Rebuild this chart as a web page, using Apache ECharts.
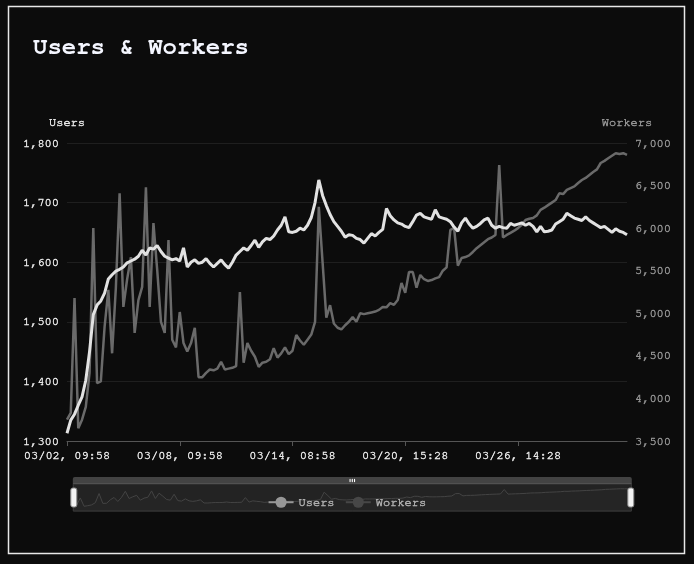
<!DOCTYPE html>
<html><head><meta charset="utf-8">
<script src="https://cdn.jsdelivr.net/npm/echarts@6/dist/echarts.min.js"></script>
<style>html,body{margin:0;padding:0;background:#0c0c0c}#c{width:694px;height:564px}</style>
</head><body><div id="c"></div>
<script>
const tickLabels = ['03/02, 09:58', '03/08, 09:58', '03/14, 08:58', '03/20, 15:28', '03/26, 14:28'];
const seriesNames = ['Users', 'Workers'];
const users = [
1313,1335,1345,1360,1374,1402,1450,1512,1528,1535,
1548,1572,1579,1585,1588,1592,1599,1602,1605,1610,
1620,1612,1624,1622,1628,1618,1610,1607,1604,1606,
1602,1624,1592,1600,1604,1598,1600,1606,1598,1592,
1598,1604,1596,1590,1600,1612,1618,1624,1620,1628,
1637,1625,1634,1640,1638,1644,1654,1662,1676,1651,
1650,1652,1657,1654,1662,1675,1700,1738,1712,1695,
1680,1668,1660,1652,1642,1646,1645,1640,1638,1632,
1640,1648,1644,1650,1655,1690,1678,1671,1666,1664,
1660,1658,1668,1679,1682,1676,1674,1672,1688,1676,
1674,1672,1668,1659,1652,1666,1674,1664,1657,1660,
1665,1671,1674,1662,1657,1660,1658,1657,1665,1662,
1664,1666,1662,1665,1660,1651,1660,1651,1652,1654,
1664,1668,1672,1682,1678,1674,1672,1670,1676,1670,
1666,1662,1658,1660,1655,1650,1656,1652,1650,1646
];
const workers = [
3750,3830,5180,3650,3750,3900,4300,6000,4180,4200,
4840,5275,4530,5300,6410,5075,5400,5660,4770,5155,
5310,6480,5075,6060,5510,4900,4770,5860,4690,4600,
5015,4650,4550,4650,4830,4250,4250,4300,4340,4330,
4350,4430,4340,4350,4360,4380,5250,4420,4650,4560,
4490,4370,4420,4430,4460,4590,4480,4530,4600,4520,
4560,4745,4680,4630,4690,4750,4900,6250,5600,4950,
5095,4880,4830,4810,4860,4900,4955,4900,5000,4990,
5000,5010,5020,5040,5075,5070,5120,5100,5155,5355,
5240,5485,5485,5300,5450,5400,5380,5390,5410,5425,
5500,5540,5980,6000,5560,5650,5660,5680,5720,5765,
5800,5835,5870,5890,5920,6740,5890,5920,5945,5970,
6000,6040,6095,6110,6120,6150,6215,6240,6270,6300,
6330,6410,6400,6450,6470,6490,6530,6565,6590,6625,
6660,6690,6765,6790,6820,6850,6880,6870,6880,6860
];
const LABEL_STEP = 30;
const categories = users.map((v, i) => i % LABEL_STEP === 0 ? tickLabels[i / LABEL_STEP] : tickLabels[Math.floor(i / LABEL_STEP)] + ' +' + (i % LABEL_STEP));

const FONT = "'Nimbus Mono PS', 'Nimbus Mono L', FreeMono, 'Courier 10 Pitch', Courier, 'Courier New', 'Liberation Mono', monospace";
const LIGHT = '#e8e8e8', DIM = '#959595';
function txt(color) {
  return { color: color, fontFamily: FONT, fontSize: 12, textBorderColor: color, textBorderWidth: 0.45 };
}
const chart = echarts.init(document.getElementById('c'));
chart.setOption({
  backgroundColor: '#0c0c0c',
  animation: false,
  textStyle: { fontFamily: FONT },
  graphic: [{
    type: 'rect', shape: { x: 8.5, y: 6.5, width: 676, height: 547 },
    style: { fill: 'none', stroke: '#e8e8e8', lineWidth: 1.5 }, silent: true
  }],
  title: {
    text: 'Users & Workers', left: 28, top: 30,
    textStyle: { fontFamily: FONT, fontSize: 24, fontWeight: 'bold', color: '#f4f6ff' }
  },
  legend: {
    data: [
      { name: seriesNames[0], itemStyle: { color: '#c8c8c8' }, lineStyle: { color: '#c8c8c8' } },
      { name: seriesNames[1], itemStyle: { color: '#555' }, lineStyle: { color: '#555' } }
    ],
    top: 491, left: 'center', itemGap: 10, itemWidth: 25, itemHeight: 14,
    textStyle: txt(LIGHT)
  },
  grid: { left: 67, right: 67, top: 143, bottom: 123 },
  xAxis: {
    type: 'category', data: categories, boundaryGap: false,
    axisLine: { lineStyle: { color: '#555' } },
    axisTick: { interval: LABEL_STEP - 1, length: 5, lineStyle: { color: '#555' } },
    axisLabel: Object.assign({ interval: LABEL_STEP - 1, margin: 8 }, txt(LIGHT)),
    splitLine: { show: false }
  },
  yAxis: [{
    type: 'value', name: seriesNames[0], min: 1300, max: 1800, interval: 100,
    nameTextStyle: txt(LIGHT), nameGap: 15,
    axisLine: { show: false }, axisTick: { show: false },
    axisLabel: Object.assign({ margin: 8 }, txt(LIGHT)),
    splitLine: { lineStyle: { color: '#1f1f1f' } }
  }, {
    type: 'value', name: seriesNames[1], min: 3500, max: 7000, interval: 500,
    nameTextStyle: txt(DIM), nameGap: 15,
    axisLine: { show: false }, axisTick: { show: false },
    axisLabel: Object.assign({ margin: 8 }, txt(DIM)),
    splitLine: { show: false }
  }],
  dataZoom: [{
    type: 'slider', xAxisIndex: 0, start: 0, end: 100,
    left: 70, right: 65, top: 477, height: 28,
    backgroundColor: '#222', borderColor: '#3a3a3a',
    fillerColor: 'rgba(40,40,40,0.3)',
    dataBackground: { lineStyle: { color: '#505050', width: 1 }, areaStyle: { color: '#2a2a2a' } },
    selectedDataBackground: { lineStyle: { color: '#505050', width: 1 }, areaStyle: { color: '#2a2a2a' } },
    handleIcon: 'path://M2,0h2a2,2,0,0,1,2,2v15a2,2,0,0,1-2,2h-2a2,2,0,0,1-2-2v-15a2,2,0,0,1,2-2Z',
    handleSize: 19,
    handleStyle: { color: '#f2f2f2', borderColor: '#888', borderWidth: 1 },
    moveHandleSize: 7, moveHandleStyle: { color: '#7a7a7a' },
    showDetail: false,
    textStyle: { color: '#ccc' }
  }],
  series: [{
    name: seriesNames[1], type: 'line', yAxisIndex: 1, data: workers,
    symbol: 'circle', showSymbol: false,
    lineStyle: { color: '#6a6a6a', width: 2.5 }, itemStyle: { color: '#6a6a6a' }
  }, {
    name: seriesNames[0], type: 'line', yAxisIndex: 0, data: users,
    symbol: 'circle', showSymbol: false,
    lineStyle: { color: '#e2e2e2', width: 3 }, itemStyle: { color: '#e2e2e2' }
  }]
});
</script></body></html>
